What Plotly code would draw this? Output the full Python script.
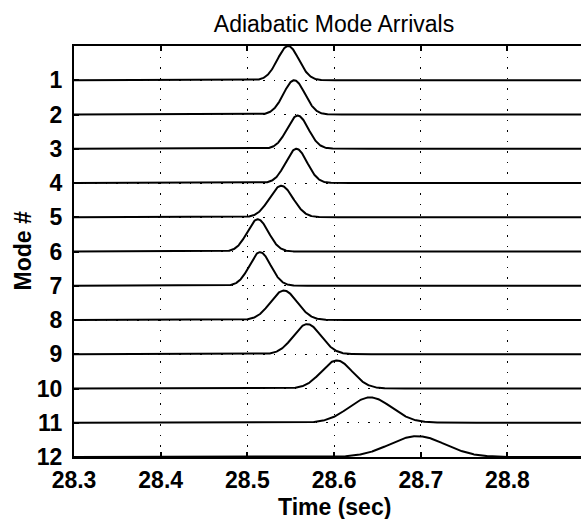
import numpy as np
import plotly.graph_objects as go

# ---- data ----
modes = [1, 2, 3, 4, 5, 6, 7, 8, 9, 10, 11, 12]
arrival_times = [28.547, 28.554, 28.558, 28.5565, 28.539, 28.512, 28.5146, 28.542, 28.569, 28.603, 28.6415, 28.696]
pulse_sigma = [0.0123, 0.0123, 0.0122, 0.0123, 0.0136, 0.0122, 0.0123, 0.0154, 0.0160, 0.0178, 0.0245, 0.0320]
pulse_amp = [1.0, 1.0, 0.97, 1.0, 0.92, 0.94, 0.98, 0.86, 0.88, 0.82, 0.74, 0.61]
x_ticks = [28.3, 28.4, 28.5, 28.6, 28.7, 28.8, 28.9]
x_tick_labels = ["28.3", "28.4", "28.5", "28.6", "28.7", "28.8", "28.9"]

x_min, x_max = 28.3, 28.8848
t = np.linspace(x_min, x_max, 1200)

fig = go.Figure()
for m, t0, s, a in zip(modes, arrival_times, pulse_sigma, pulse_amp):
    y = m - a * np.exp(-0.5 * ((t - t0) / s) ** 2)
    fig.add_trace(go.Scatter(x=t, y=y, mode="lines",
                             line=dict(color="black", width=2),
                             showlegend=False, hoverinfo="skip"))

FONT = "Liberation Sans, Arial, Helvetica, sans-serif"
GRID = dict(showgrid=True, gridcolor="black", gridwidth=1.2, griddash="1.5px,9px")

fig.update_layout(
    width=581, height=519,
    margin=dict(l=74, r=0, t=46, b=62, autoexpand=False),
    paper_bgcolor="white", plot_bgcolor="white",
    font=dict(family=FONT, color="black"),
    title=dict(text="Adiabatic Mode Arrivals", x=334 / 581, xanchor="center",
               xref="container", yref="container", y=1 - 24 / 519, yanchor="middle",
               font=dict(size=23, family=FONT, color="black")),
    xaxis=dict(range=[x_min, x_max], tickvals=x_ticks, ticktext=x_tick_labels,
               automargin=False,
               showline=True, linecolor="black", linewidth=2, mirror="ticks",
               ticks="inside", ticklen=5, tickwidth=1.5, tickcolor="black",
               zeroline=False, ticklabelstandoff=1,
               tickfont=dict(size=23, family=FONT, color="black", weight="bold"),
               **GRID),
    yaxis=dict(range=[12, 0], tickvals=modes, ticktext=[str(m) for m in modes],
               automargin=False,
               showline=True, linecolor="black", linewidth=2, mirror=False,
               ticks="inside", ticklen=5, tickwidth=1.5, tickcolor="black",
               zeroline=False, ticklabelstandoff=5,
               tickfont=dict(size=23, family=FONT, color="black", weight="bold"),
               minor=dict(tickvals=[0], ticks="", **GRID),
               **GRID),
    annotations=[
        dict(text="Time (sec)", xref="paper", yref="paper",
             x=(334 - 74) / 507, y=-(507 - 457) / (457 - 46),
             xanchor="center", yanchor="middle", showarrow=False,
             font=dict(size=23, family=FONT, color="black", weight="bold")),
        dict(text="Mode #", xref="paper", yref="paper",
             x=-(74 - 22) / 507, y=0.5, textangle=-90,
             xanchor="center", yanchor="middle", showarrow=False,
             font=dict(size=23, family=FONT, color="black", weight="bold")),
    ],
)

fig.write_html("out.html", config={"displayModeBar": False},
               post_script="document.body.style.margin='0';document.body.style.overflow='hidden';")
